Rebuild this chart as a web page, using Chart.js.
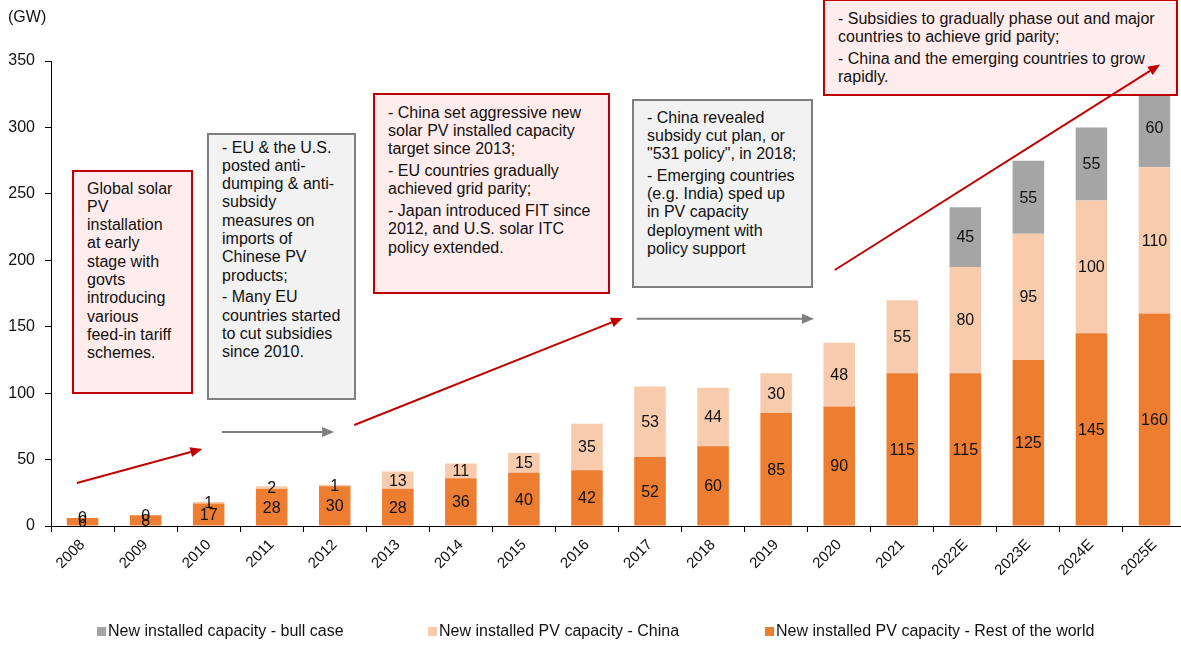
<!DOCTYPE html>
<html>
<head>
<meta charset="utf-8">
<script src="https://cdn.jsdelivr.net/npm/chart.js@4.4.0/dist/chart.umd.min.js"></script>
<style>
  body { margin:0; background:#fff; overflow:hidden; font-family:"Liberation Sans", Arial, sans-serif; color:#111; }
  #wrap { position:relative; width:1186px; height:646px; }
  #chart { position:absolute; left:0; top:0; }
  #arrows { position:absolute; left:0; top:0; pointer-events:none; z-index:3; }
  .unit { position:absolute; left:8px; top:8px; font-size:16px; line-height:18px; }
  .note { position:absolute; box-sizing:border-box; border:2px solid; font-size:16px; line-height:18.3px;
          white-space:nowrap; z-index:2; padding-left:13px; }
  .note.red { border-color:#C00000; background:#FFECEC; }
  .note.grey { border-color:#7F7F7F; background:#F2F2F2; }
  .note p { margin:0 0 3.5px 0; }
  .lg { position:absolute; top:622px; display:flex; align-items:center; font-size:16px; line-height:18px; white-space:nowrap; }
  .lg span.box { display:inline-block; width:9px; height:9px; margin-right:2px; }
</style>
</head>
<body>
<div id="wrap">
  <canvas id="chart" width="1186" height="646"></canvas>
  <canvas id="arrows" width="1186" height="646"></canvas>
  <div class="unit">(GW)</div>

  <div class="note red" style="left:72px;top:170px;width:121px;height:224px;padding-top:7.5px;">
    <p>Global solar<br>PV<br>installation<br>at early<br>stage with<br>govts<br>introducing<br>various<br>feed-in tariff<br>schemes.</p>
  </div>
  <div class="note grey" style="left:207px;top:133px;width:149px;height:267px;padding-top:3.5px;">
    <p>- EU &amp; the U.S.<br>posted anti-<br>dumping &amp; anti-<br>subsidy<br>measures on<br>imports of<br>Chinese PV<br>products;</p>
    <p>- Many EU<br>countries started<br>to cut subsidies<br>since 2010.</p>
  </div>
  <div class="note red" style="left:373px;top:93px;width:237px;height:201px;padding-top:8.5px;">
    <p>- China set aggressive new<br>solar PV installed capacity<br>target since 2013;</p>
    <p>- EU countries gradually<br>achieved grid parity;</p>
    <p>- Japan introduced FIT since<br>2012, and U.S. solar ITC<br>policy extended.</p>
  </div>
  <div class="note grey" style="left:632px;top:99px;width:181px;height:189px;padding-top:7.5px;">
    <p>- China revealed<br>subsidy cut plan, or<br>"531 policy", in 2018;</p>
    <p>- Emerging countries<br>(e.g. India) sped up<br>in PV capacity<br>deployment with<br>policy support</p>
  </div>
  <div class="note red" style="left:823px;top:-1px;width:355px;height:97px;padding-top:8.5px;">
    <p>- Subsidies to gradually phase out and major<br>countries to achieve grid parity;</p>
    <p>- China and the emerging countries to grow<br>rapidly.</p>
  </div>

  <div class="lg" style="left:97px;"><span class="box" style="background:#A5A5A5"></span>New installed capacity - bull case</div>
  <div class="lg" style="left:428px;"><span class="box" style="background:#F8CBAD"></span>New installed PV capacity - China</div>
  <div class="lg" style="left:765px;"><span class="box" style="background:#ED7D31"></span>New installed PV capacity - Rest of the world</div>
</div>

<script>
// ===== DATA =====
const years = ['2008','2009','2010','2011','2012','2013','2014','2015','2016','2017',
               '2018','2019','2020','2021','2022E','2023E','2024E','2025E'];
const restOfWorld = [6, 8, 17, 28, 30, 28, 36, 40, 42, 52, 60, 85, 90, 115, 115, 125, 145, 160];
const china       = [0, 0, 1, 2, 1, 13, 11, 15, 35, 53, 44, 30, 48, 55, 80, 95, 100, 110];
const bullCase    = [null, null, null, null, null, null, null, null, null, null,
                     null, null, null, null, 45, 55, 55, 60];
const yTicks = [0, 50, 100, 150, 200, 250, 300, 350];

// arrows in data units: [category index, GW]
const arrows = [
  { from: [-0.09, 32.4], to: [1.9, 58.0],   color: '#C00000' },
  { from: [2.21, 70.8],  to: [3.99, 70.8],  color: '#7F7F7F' },
  { from: [4.31, 76.0],  to: [8.57, 156.6], color: '#C00000' },
  { from: [8.79, 156.0], to: [11.6, 156.0], color: '#7F7F7F' },
  { from: [11.93, 192.7], to: [17.09, 347.4], color: '#C00000' }
];

const FONT = '"Liberation Sans", Arial, sans-serif';

// value labels centred in every segment
const segLabels = {
  id: 'segLabels',
  afterDatasetsDraw(chart) {
    const ctx = chart.ctx;
    ctx.save();
    ctx.font = '16px ' + FONT;
    ctx.fillStyle = '#111';
    ctx.textAlign = 'center';
    ctx.textBaseline = 'middle';
    chart.data.datasets.forEach((ds, di) => {
      const meta = chart.getDatasetMeta(di);
      meta.data.forEach((bar, i) => {
        const v = ds.data[i];
        if (v === null || v === undefined) return;
        ctx.fillText(String(v), bar.x, (bar.y + bar.base) / 2 + 1);
      });
    });
    ctx.restore();
  }
};

// arrows go on an overlay canvas so they sit above the note boxes
const arrowPlugin = {
  id: 'arrowPlugin',
  afterDraw(chart) {
    const cv = document.getElementById('arrows');
    const ctx = cv.getContext('2d');
    ctx.clearRect(0, 0, cv.width, cv.height);
    const xs = chart.scales.x, ys = chart.scales.y;
    arrows.forEach(a => {
      const x1 = xs.getPixelForValue(a.from[0]), y1 = ys.getPixelForValue(a.from[1]);
      const x2 = xs.getPixelForValue(a.to[0]),   y2 = ys.getPixelForValue(a.to[1]);
      const ang = Math.atan2(y2 - y1, x2 - x1);
      const head = 12, half = 5;
      const bx = x2 - head * Math.cos(ang), by = y2 - head * Math.sin(ang);
      ctx.strokeStyle = a.color;
      ctx.fillStyle = a.color;
      ctx.lineWidth = 2;
      ctx.beginPath();
      ctx.moveTo(x1, y1);
      ctx.lineTo(bx, by);
      ctx.stroke();
      ctx.beginPath();
      ctx.moveTo(x2, y2);
      ctx.lineTo(bx + half * Math.sin(ang), by - half * Math.cos(ang));
      ctx.lineTo(bx - half * Math.sin(ang), by + half * Math.cos(ang));
      ctx.closePath();
      ctx.fill();
    });
  }
};

new Chart(document.getElementById('chart'), {
  type: 'bar',
  data: {
    labels: years,
    datasets: [
      { label: 'New installed PV capacity - Rest of the world', data: restOfWorld, backgroundColor: '#ED7D31' },
      { label: 'New installed PV capacity - China', data: china, backgroundColor: '#F8CBAD' },
      { label: 'New installed capacity - bull case', data: bullCase, backgroundColor: '#A5A5A5' }
    ]
  },
  options: {
    responsive: false,
    animation: false,
    events: [],
    layout: { padding: { top: 61, left: 0, right: 0, bottom: 0 } },
    datasets: { bar: { barPercentage: 0.5, categoryPercentage: 1, borderWidth: 0 } },
    plugins: { legend: { display: false }, tooltip: { enabled: false } },
    scales: {
      x: {
        stacked: true,
        grid: { drawOnChartArea: false, offset: true, tickLength: 6, tickColor: '#000' },
        border: { color: '#000', width: 1 },
        ticks: { color: '#111', font: { family: FONT, size: 15 }, maxRotation: 45, minRotation: 45, autoSkip: false, padding: 4 },
        afterFit: s => { s.height = 120; }
      },
      y: {
        stacked: true,
        min: 0, max: 350,
        afterBuildTicks: s => { s.ticks = yTicks.map(v => ({ value: v })); },
        grid: { drawOnChartArea: false, tickLength: 6, tickColor: '#000' },
        border: { color: '#000', width: 1 },
        ticks: { color: '#111', font: { family: FONT, size: 16 }, padding: 10 },
        afterFit: s => { s.width = 51; }
      }
    }
  },
  plugins: [segLabels, arrowPlugin]
});
</script>
</body>
</html>
